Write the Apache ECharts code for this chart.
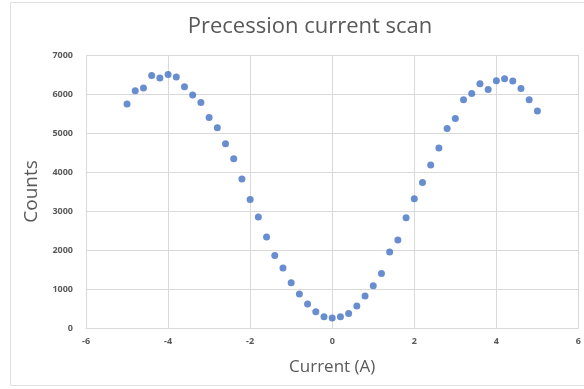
<!DOCTYPE html>
<html>
<head>
<meta charset="utf-8">
<script src="https://cdn.jsdelivr.net/npm/echarts@6/dist/echarts.min.js"></script>
<style>
  html, body { margin: 0; padding: 0; background: #fff; }
  #chart { width: 584px; height: 389px; }
</style>
</head>
<body>
<div id="chart"></div>
<script>
// current steps (A), -5 .. 5 in 0.2 steps
const currents = [
  -5.0, -4.8, -4.6, -4.4, -4.2, -4.0, -3.8, -3.6, -3.4, -3.2,
  -3.0, -2.8, -2.6, -2.4, -2.2, -2.0, -1.8, -1.6, -1.4, -1.2,
  -1.0, -0.8, -0.6, -0.4, -0.2, 0.0, 0.2, 0.4, 0.6, 0.8,
  1.0, 1.2, 1.4, 1.6, 1.8, 2.0, 2.2, 2.4, 2.6, 2.8,
  3.0, 3.2, 3.4, 3.6, 3.8, 4.0, 4.2, 4.4, 4.6, 4.8, 5.0
];
// counts
const counts = [
  5745, 6085, 6155, 6477, 6410, 6503, 6436, 6187, 5974, 5785,
  5400, 5136, 4726, 4341, 3821, 3297, 2846, 2333, 1862, 1538,
  1162, 872, 615, 418, 290, 256, 290, 374, 564, 821,
  1085, 1400, 1949, 2256, 2828, 3315, 3733, 4179, 4615, 5118,
  5374, 5854, 6015, 6264, 6118, 6341, 6392, 6333, 6144, 5854, 5564
];

const chart = echarts.init(document.getElementById('chart'));

const textColor = '#595959';
const gridColor = '#d9d9d9';

chart.setOption({
  animation: false,
  title: {
    text: 'Precession current scan',
    left: 305,
    textAlign: 'center',
    top: 11,
    textStyle: {
      fontFamily: 'Open Sans',
      fontWeight: 'normal',
      fontSize: 22,
      color: textColor
    }
  },
  graphic: [{
    type: 'rect',
    shape: { x: 10.5, y: 2.5, width: 620, height: 383 },
    style: { fill: 'none', stroke: '#e0e0e0', lineWidth: 1 },
    silent: true
  }],
  grid: { left: 86, right: 4, top: 55, bottom: 61 },
  xAxis: {
    type: 'value',
    min: -6,
    max: 6,
    interval: 2,
    name: 'Current (A)',
    nameLocation: 'middle',
    nameGap: 31,
    nameTextStyle: { fontFamily: 'Open Sans', fontSize: 17, color: textColor },
    axisLine: { onZero: false, lineStyle: { color: gridColor } },
    axisTick: { show: false },
    axisLabel: { fontFamily: 'Open Sans', fontSize: 9, fontWeight: 'bold', color: textColor, margin: 9 },
    splitLine: { lineStyle: { color: gridColor } }
  },
  yAxis: {
    type: 'value',
    min: 0,
    max: 7000,
    interval: 1000,
    name: 'Counts',
    nameLocation: 'middle',
    nameGap: 36,
    nameTextStyle: { fontFamily: 'Open Sans', fontSize: 19, color: textColor },
    axisLine: { show: false },
    axisTick: { show: false },
    axisLabel: {
      fontFamily: 'Open Sans', fontSize: 9, fontWeight: 'bold', color: textColor, margin: 13,
      formatter: v => String(v)
    },
    splitLine: { lineStyle: { color: gridColor } }
  },
  series: [{
    type: 'scatter',
    data: currents.map((c, i) => [c, counts[i]]),
    symbol: 'circle',
    symbolSize: 7,
    itemStyle: { color: '#4472C4' }
  }]
});
</script>
</body>
</html>
